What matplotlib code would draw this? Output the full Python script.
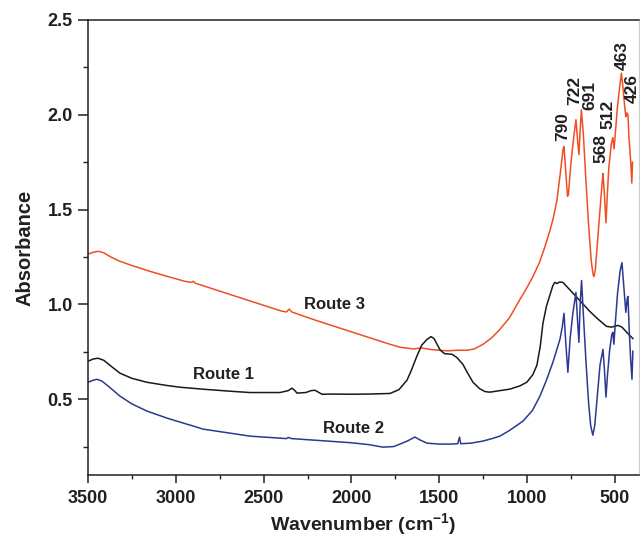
import matplotlib
matplotlib.use("Agg")
import matplotlib.pyplot as plt
from matplotlib.ticker import MultipleLocator

plt.rcParams["font.family"] = ["Liberation Sans", "DejaVu Sans"]
plt.rcParams["font.weight"] = "bold"
plt.rcParams["mathtext.fontset"] = "custom"
plt.rcParams["mathtext.rm"] = "Liberation Sans:bold"
plt.rcParams["mathtext.default"] = "rm"

# Route 3 (orange)
wn3 = [3500, 3470, 3440, 3410, 3370, 3320, 3250, 3150, 3050, 2950, 2910, 2900, 2890,
       2800, 2700, 2600, 2500, 2400, 2370, 2355, 2340, 2300, 2200, 2100, 2000, 1900,
       1800, 1724, 1650, 1600, 1550, 1500, 1450, 1400, 1343, 1300, 1250, 1200, 1155,
       1100, 1041, 1000, 967, 930, 900, 870, 853, 830, 810, 795, 790, 780, 770, 765,
       750, 735, 722, 712, 705, 698, 691, 680, 665, 650, 635, 625, 620, 612, 600, 585,
       572, 568, 560, 551, 545, 535, 520, 512, 505, 498, 485, 470, 463, 455, 445, 438,
       432, 426, 420, 410, 404, 400]
ab3 = [1.265, 1.275, 1.280, 1.272, 1.250, 1.228, 1.205, 1.175, 1.148, 1.122, 1.116, 1.122, 1.112,
       1.085, 1.055, 1.025, 0.995, 0.965, 0.960, 0.975, 0.960, 0.947, 0.915, 0.885, 0.855, 0.825,
       0.795, 0.774, 0.765, 0.770, 0.762, 0.758, 0.755, 0.758, 0.758, 0.765, 0.790, 0.825, 0.868,
       0.930, 1.026, 1.090, 1.147, 1.220, 1.300, 1.390, 1.447, 1.550, 1.700, 1.820, 1.832, 1.700, 1.570, 1.580,
       1.750, 1.880, 1.974, 1.860, 1.790, 1.920, 2.026, 1.900, 1.650, 1.420, 1.230, 1.160, 1.147, 1.180, 1.320, 1.500,
       1.650, 1.690, 1.580, 1.430, 1.550, 1.720, 1.850, 1.880, 1.820, 1.900, 2.050, 2.170, 2.220, 2.150, 2.050, 1.990,
       2.010, 2.000, 1.880, 1.750, 1.640, 1.750]

# Route 1 (black)
wn1 = [3500, 3470, 3443, 3410, 3370, 3318, 3250, 3164, 3050, 2976, 2850, 2692, 2578, 2407,
       2360, 2339, 2325, 2310, 2260, 2230, 2208, 2185, 2168, 2105, 2000, 1900, 1781, 1730,
       1707, 1684, 1660, 1628, 1600, 1570, 1547, 1530, 1510, 1496, 1470, 1428, 1400, 1366,
       1340, 1309, 1270, 1240, 1212, 1155, 1098, 1041, 1001, 967, 944, 925, 910, 890, 870,
       853, 842, 830, 815, 796, 770, 740, 717, 680, 643, 600, 548, 520, 483, 460, 440, 420, 398]
ab1 = [0.700, 0.712, 0.716, 0.705, 0.675, 0.637, 0.610, 0.589, 0.572, 0.563, 0.553, 0.542, 0.535, 0.535,
       0.545, 0.558, 0.548, 0.532, 0.535, 0.545, 0.547, 0.535, 0.526, 0.527, 0.526, 0.527, 0.530, 0.550,
       0.575, 0.600, 0.650, 0.726, 0.785, 0.815, 0.830, 0.820, 0.785, 0.760, 0.740, 0.737, 0.720, 0.684,
       0.640, 0.590, 0.555, 0.540, 0.537, 0.545, 0.553, 0.570, 0.590, 0.630, 0.680, 0.780, 0.900, 0.990, 1.050,
       1.100, 1.116, 1.110, 1.118, 1.116, 1.090, 1.060, 1.037, 1.000, 0.963, 0.925, 0.884, 0.880, 0.889, 0.880,
       0.860, 0.840, 0.820]

# Route 2 (blue)
wn2 = [3500, 3470, 3449, 3420, 3380, 3318, 3250, 3164, 3050, 2976, 2900, 2845, 2700, 2578,
       2450, 2370, 2360, 2340, 2200, 2000, 1900, 1821, 1760, 1724, 1680, 1639, 1610, 1570,
       1500, 1439, 1395, 1385, 1378, 1320, 1251, 1200, 1155, 1100, 1024, 970, 927, 890, 853,
       813, 800, 790, 780, 768, 755, 740, 722, 712, 705, 698, 690, 680, 665, 650, 638, 626,
       615, 600, 585, 568, 560, 551, 543, 530, 518, 512, 506, 498, 485, 470, 460, 450, 438,
       430, 426, 418, 410, 403, 398]
ab2 = [0.589, 0.600, 0.605, 0.595, 0.565, 0.516, 0.475, 0.437, 0.400, 0.379, 0.358, 0.342, 0.322, 0.305,
       0.297, 0.292, 0.298, 0.292, 0.283, 0.270, 0.260, 0.247, 0.250, 0.263, 0.280, 0.300, 0.285, 0.268,
       0.263, 0.263, 0.265, 0.300, 0.265, 0.268, 0.279, 0.292, 0.305, 0.335, 0.384, 0.440, 0.516, 0.600, 0.695,
       0.816, 0.880, 0.953, 0.800, 0.642, 0.820, 0.950, 1.063, 0.900, 0.800, 1.000, 1.126, 0.950, 0.700, 0.480,
       0.360, 0.310, 0.360, 0.520, 0.680, 0.763, 0.660, 0.511, 0.620, 0.760, 0.840, 0.853, 0.790, 0.900, 1.060,
       1.180, 1.220, 1.100, 0.958, 1.030, 1.042, 0.850, 0.700, 0.605, 0.753]

peak_labels = ["790", "722", "691", "568", "512", "463", "426"]
peak_label_x = [796, 727, 640, 580, 540, 460, 403]
peak_label_y = [1.94, 2.13, 2.10, 1.82, 2.00, 2.31, 2.14]

route_labels = ["Route 3", "Route 1", "Route 2"]
route_label_x = [2094, 2731, 1991]
route_label_y = [1.00, 0.632, 0.347]

text_color = "#231f20"

fig = plt.figure(figsize=(6.41, 5.39), dpi=100)
ax = fig.add_axes([88 / 641, 1 - 475 / 539, (639 - 88) / 641, (475 - 20) / 539])

ax.plot(wn3, ab3, color="#f04e23", lw=1.1)
ax.plot(wn1, ab1, color="#1a1a1a", lw=1.1)
ax.plot(wn2, ab2, color="#2b3990", lw=1.1)

ax.set_xlim(3500, 363)
ax.set_ylim(0.1, 2.5)

ax.xaxis.set_major_locator(MultipleLocator(500))
ax.xaxis.set_minor_locator(MultipleLocator(250))
ax.yaxis.set_major_locator(MultipleLocator(0.5))
ax.yaxis.set_minor_locator(MultipleLocator(0.25))

ax.tick_params(which="major", direction="out", length=7, width=1.1, labelsize=13,
               colors=text_color, pad=4)
ax.tick_params(which="minor", direction="out", length=3.5, width=1.0, colors=text_color)
ax.tick_params(axis="x", which="major", length=6, pad=5)
ax.tick_params(axis="x", which="minor", length=3)
for lab in ax.get_xticklabels() + ax.get_yticklabels():
    lab.set_fontweight("bold")

for side in ["left", "bottom", "top"]:
    ax.spines[side].set_linewidth(1.1)
    ax.spines[side].set_color(text_color)
ax.spines["right"].set_color("#cccccc")
ax.spines["right"].set_linewidth(0.8)

ax.set_ylabel("Absorbance", fontsize=14.5, fontweight="bold", color=text_color)
ax.set_xlabel(r"Wavenumber (cm$^{-1}$)", fontsize=14, fontweight="bold", color=text_color)
ax.yaxis.set_label_coords(-0.098, 0.5)
ax.xaxis.set_label_coords(0.5, -0.08)

for lab, x, y in zip(route_labels, route_label_x, route_label_y):
    ax.text(x, y, lab, fontsize=12, fontweight="bold", color=text_color,
            ha="center", va="center")

for lab, x, y in zip(peak_labels, peak_label_x, peak_label_y):
    ax.text(x, y, lab, rotation=90, fontsize=12.5, fontweight="bold", color=text_color,
            ha="center", va="center")

plt.savefig("out.png", dpi=100)
